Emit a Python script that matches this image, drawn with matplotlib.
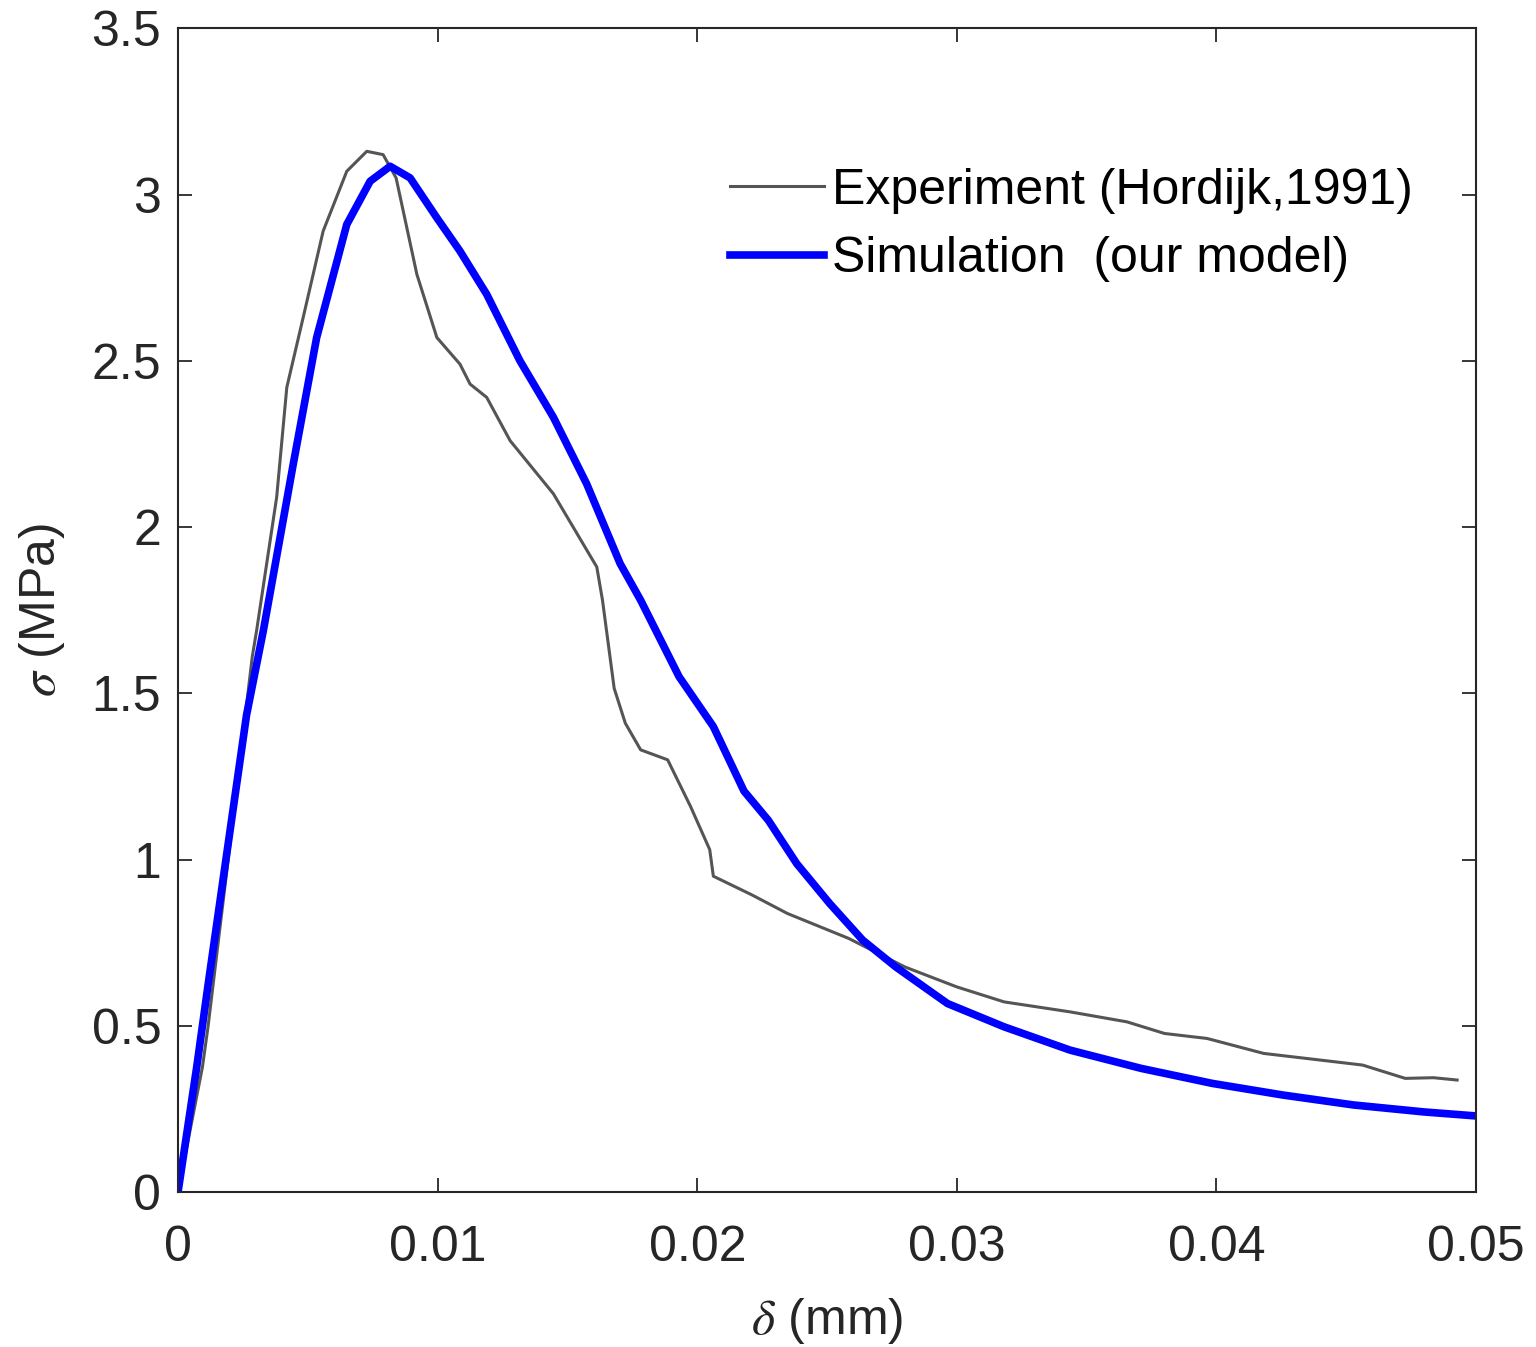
import matplotlib
matplotlib.use("Agg")
import matplotlib.pyplot as plt
import numpy as np

# experiment (Hordijk, 1991)
exp_delta = [0.0, 0.00094, 0.00116, 0.0019, 0.00286, 0.00303, 0.0038, 0.00419, 0.00482,
             0.00559, 0.0065, 0.00727, 0.0079, 0.0084, 0.0092, 0.00997, 0.01086,
             0.01125, 0.01189, 0.01279, 0.01446, 0.01613, 0.01635, 0.0168, 0.01723,
             0.01782, 0.01886, 0.01974, 0.02048, 0.02062, 0.0221, 0.02347, 0.02583,
             0.028, 0.030, 0.03182, 0.03436, 0.03655, 0.038, 0.03964, 0.04182,
             0.04346, 0.04563, 0.04727, 0.04836, 0.04927]
exp_sigma = [0.0, 0.376, 0.50, 0.98, 1.61, 1.69, 2.09, 2.42, 2.63,
             2.89, 3.07, 3.13, 3.12, 3.05, 2.76, 2.57, 2.49,
             2.43, 2.39, 2.26, 2.10, 1.88, 1.78, 1.515, 1.41,
             1.33, 1.30, 1.16, 1.03, 0.95, 0.894, 0.838, 0.763,
             0.677, 0.617, 0.572, 0.542, 0.512, 0.477, 0.462, 0.417,
             0.402, 0.382, 0.342, 0.344, 0.337]

# simulation (our model)
sim_delta = [0.0, 0.00072, 0.00117, 0.0019, 0.00264, 0.00329, 0.00444, 0.00534, 0.0065,
             0.0074, 0.00817, 0.00894, 0.00997, 0.01086, 0.01189, 0.01317, 0.01446,
             0.01574, 0.01703, 0.01782, 0.0193, 0.02062, 0.0218, 0.02274, 0.02383,
             0.0251, 0.02637, 0.02765, 0.02964, 0.03182, 0.03436, 0.0371, 0.03983,
             0.04255, 0.04528, 0.048, 0.05]
sim_sigma = [0.0, 0.376, 0.63, 1.03, 1.435, 1.69, 2.19, 2.57, 2.91,
             3.04, 3.085, 3.05, 2.93, 2.83, 2.70, 2.50, 2.33,
             2.13, 1.89, 1.78, 1.55, 1.40, 1.206, 1.118, 0.988,
             0.868, 0.758, 0.677, 0.567, 0.497, 0.427, 0.372, 0.327,
             0.292, 0.262, 0.241, 0.229]

xticks = [0, 0.01, 0.02, 0.03, 0.04, 0.05]
xticklabels = ['0', '0.01', '0.02', '0.03', '0.04', '0.05']
yticks = [0, 0.5, 1, 1.5, 2, 2.5, 3, 3.5]
yticklabels = ['0', '0.5', '1', '1.5', '2', '2.5', '3', '3.5']

plt.rcParams['font.family'] = ['Liberation Sans', 'DejaVu Sans']
plt.rcParams['mathtext.fontset'] = 'stix'
fs = 36

fig = plt.figure(figsize=(15.36, 13.47), dpi=100)
ax = fig.add_axes([0.1159, 0.115, 0.8451, 0.864])

ax.plot(exp_delta, exp_sigma, color='#555555', linewidth=2.2, label='Experiment (Hordijk,1991)')
ax.plot(sim_delta, sim_sigma, color='#0000ff', linewidth=5.5, label='Simulation  (our model)')

ax.set_xlim(0, 0.05)
ax.set_ylim(0, 3.5)
ax.set_xticks(xticks)
ax.set_xticklabels(xticklabels)
ax.set_yticks(yticks)
ax.set_yticklabels(yticklabels)

axcol = '#262626'
for s in ax.spines.values():
    s.set_color(axcol)
    s.set_linewidth(1.5)
ax.tick_params(direction='in', length=10, width=1.3, colors=axcol, labelsize=fs,
               top=True, right=True)
ax.tick_params(axis='x', pad=24)
ax.tick_params(axis='y', pad=12)

ax.set_xlabel(r'$\delta$ (mm)', fontsize=fs, color=axcol, labelpad=18)
ax.set_ylabel(r'$\sigma$ (MPa)', fontsize=fs, color=axcol, labelpad=18)

leg = ax.legend(loc='upper left', bbox_to_anchor=(0.425, 0.88), frameon=False,
                fontsize=fs, handlelength=1.88, handletextpad=0.16,
                labelspacing=0.45, borderpad=0, borderaxespad=0)

fig.savefig('out.png', dpi=100)
